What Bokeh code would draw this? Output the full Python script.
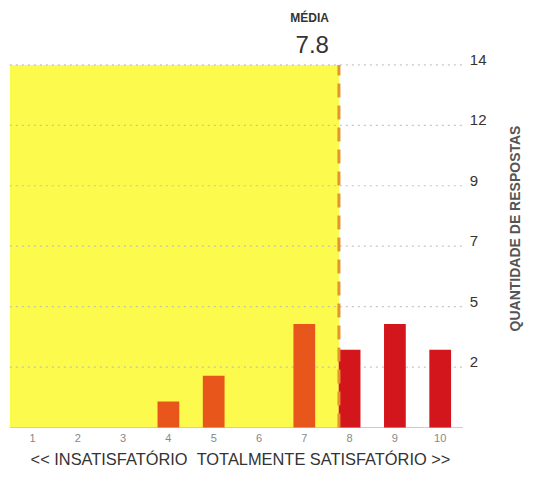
from bokeh.plotting import figure
from bokeh.models import ColumnDataSource
from bokeh.core.properties import value
from bokeh.embed import file_html
from bokeh.resources import INLINE
import math

# ---- data ----
scores = [1, 2, 3, 4, 5, 6, 7, 8, 9, 10]
counts = [0, 0, 0, 1, 2, 0, 4, 3, 4, 3]
score_group = ["low", "low", "low", "low", "low", "low", "low", "high", "high", "high"]
y_max = 14
tick_labels = ["2", "5", "7", "9", "12", "14"]
title_mean = "MÉDIA"
y_title = "QUANTIDADE DE RESPOSTAS"
x_title = "<< INSATISFATÓRIO\u00a0\u00a0TOTALMENTE SATISFATÓRIO >>"

mean = sum(s * c for s, c in zip(scores, counts)) / sum(counts)
tick_values = [y_max * (i + 1) / len(tick_labels) for i in range(len(tick_labels))]

# ---- colours ----
YELLOW = "#FCFA4C"
ORANGE = "#E8561C"
RED = "#D3151C"
DASH = "#E3952C"
GRID = "#B8B8B8"
TEXT = "#333333"

W, H = 525, 469
BASE = 427          # pixel row of the baseline
px_x = 45.3         # pixels per score unit
px_y = 25.9         # pixels per answer
x_start = 1 - 32 / px_x
x_end = x_start + W / px_x
y_start = -(H - BASE) / px_y
y_end = BASE / px_y


def xp(px):
    return x_start + px / px_x


def yp(py):
    return (BASE - py) / px_y


p = figure(width=W, height=H, output_backend="svg", toolbar_location=None,
           x_range=(x_start, x_end), y_range=(y_start, y_end),
           min_border=0)
p.outline_line_color = None
p.background_fill_color = "white"
p.border_fill_color = "white"
p.grid.visible = False
p.axis.visible = False

lo = scores[0] - 0.5
hi = scores[-1] + 0.5

# yellow area up to mean
p.quad(left=[lo], right=[mean], bottom=[0], top=[y_max],
       fill_color=YELLOW, line_color=None)

# grid lines
p.segment(x0=[lo] * len(tick_values), x1=[hi] * len(tick_values),
          y0=tick_values, y1=tick_values,
          line_color=GRID, line_width=1.2, line_dash="2 4", line_alpha=0.8)
# baseline
p.segment(x0=[lo], x1=[hi], y0=[0], y1=[0], line_color="#CCCCCC", line_width=1)

# bars
colors = [ORANGE if g == "low" else RED for g in score_group]
src = ColumnDataSource(dict(x=scores, top=counts, color=colors))
p.vbar(x="x", top="top", bottom=0, width=0.48, fill_color="color",
       line_color=None, source=src)

# mean dashed line
p.segment(x0=[mean], x1=[mean], y0=[0], y1=[y_max],
          line_color=DASH, line_width=3, line_dash="14 8")

# mean header
p.text(x=[mean], y=[yp(17)], text=[title_mean], text_align="right",
       text_baseline="middle", x_offset=-10, text_color=TEXT,
       text_font=value("Liberation Sans"), text_font_size="12px",
       text_font_style="bold")
p.text(x=[mean], y=[yp(44)], text=[f"{mean:.1f}"], text_align="right",
       text_baseline="middle", x_offset=-10, text_color=TEXT,
       text_font=value("Liberation Sans"), text_font_size="24px")

# right tick labels
p.text(x=[hi] * len(tick_values), y=tick_values, text=tick_labels,
       x_offset=7, y_offset=-5, text_align="left", text_baseline="middle",
       text_color=TEXT, text_font=value("Liberation Sans"),
       text_font_size="15px")

# right axis title
p.text(x=[xp(514)], y=[yp(228)], text=[y_title], angle=math.pi / 2,
       text_align="center", text_baseline="middle", text_color="#555555",
       text_font=value("Liberation Sans"), text_font_size="14px",
       text_font_style="bold")

# x tick labels
p.text(x=scores, y=[yp(437)] * len(scores), text=[str(s) for s in scores],
       text_align="center", text_baseline="middle", text_color="#888888",
       text_font=value("Liberation Sans"), text_font_size="11px")

# x title
p.text(x=[xp(240)], y=[yp(458)], text=[x_title], text_align="center",
       text_baseline="middle", text_color=TEXT,
       text_font=value("Liberation Sans"), text_font_size="16.4px")

open("out.html", "w").write(file_html(p, INLINE))
